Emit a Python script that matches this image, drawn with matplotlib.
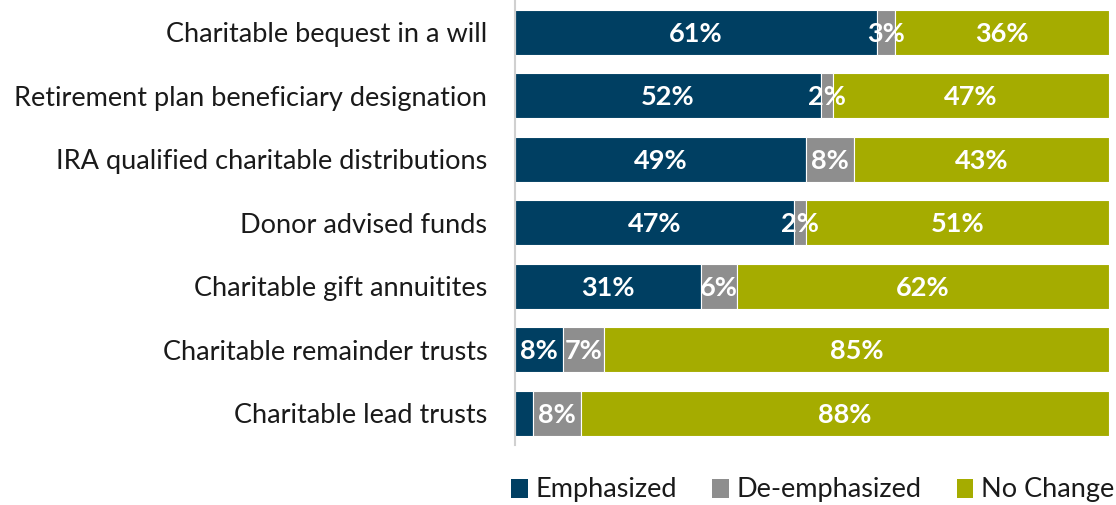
import matplotlib
matplotlib.use("Agg")
import matplotlib.pyplot as plt
from matplotlib.patches import Patch

categories = [
    "Charitable bequest in a will",
    "Retirement plan beneficiary designation",
    "IRA qualified charitable distributions",
    "Donor advised funds",
    "Charitable gift annuitites",
    "Charitable remainder trusts",
    "Charitable lead trusts",
]
emphasized = [61, 52, 49, 47, 31, 8, 3]
de_emphasized = [3, 2, 8, 2, 6, 7, 8]
no_change = [36, 47, 43, 51, 62, 85, 88]
series_names = ["Emphasized", "De-emphasized", "No Change"]
colors = ["#003F62", "#8E8E8E", "#A5AC00"]
# labels hidden for tiny segments (row index, series index)
hidden_labels = {(6, 0)}

plt.rcParams["font.family"] = ["Lato", "DejaVu Sans"]
FS = 19.5

fig = plt.figure(figsize=(11.16, 5.05), dpi=100)
ax = fig.add_axes([515 / 1116, 1 - 445 / 505, 594 / 1116, 444.5 / 505])

series = [emphasized, de_emphasized, no_change]
totals = [sum(t) for t in zip(*series)]  # 100% stacked bar, like the original

ypos = list(range(len(categories)))
left = [0.0] * len(categories)
for si, (vals, col) in enumerate(zip(series, colors)):
    widths = [v / t * 100 for v, t in zip(vals, totals)]
    ax.barh(ypos, widths, left=left, height=0.71, color=col,
            edgecolor="white", linewidth=0.8)
    for i, (w, v) in enumerate(zip(widths, vals)):
        if (i, si) in hidden_labels:
            continue
        ax.text(left[i] + w / 2, i + 0.02, f"{v}%", ha="center", va="center",
                color="white", fontsize=FS, fontweight="bold")
    left = [l + w for l, w in zip(left, widths)]

ax.set_xlim(0, 100)
ax.set_ylim(len(categories) - 0.5, -0.5)
ax.set_yticks(ypos)
ax.set_yticklabels(categories, fontsize=FS, color="#1a1a1a")
ax.tick_params(axis="y", length=0, pad=20)
ax.set_xticks([])
for s in ["top", "right", "bottom"]:
    ax.spines[s].set_visible(False)
ax.spines["left"].set_color("#D0D0D0")
ax.spines["left"].set_linewidth(1.5)

handles = [Patch(facecolor=c, edgecolor="none", label=n) for c, n in zip(colors, series_names)]
fig.legend(handles=handles, loc="center", bbox_to_anchor=(813 / 1116, 1 - 490 / 505),
           ncol=3, frameon=False, fontsize=FS, handlelength=0.6, handleheight=0.7,
           handletextpad=0.3, columnspacing=1.3, labelcolor="#1a1a1a",
           borderpad=0, borderaxespad=0)

fig.savefig("out.png", dpi=100)
